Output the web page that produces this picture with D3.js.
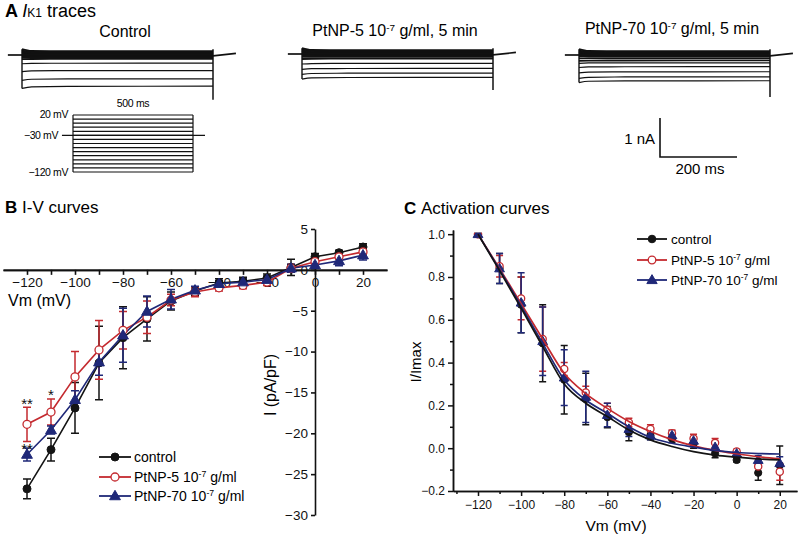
<!DOCTYPE html>
<html><head><meta charset="utf-8">
<script src="https://cdn.jsdelivr.net/npm/d3@7"></script>
<style>
body{margin:0;background:#fff}
svg{display:block;font-family:"Liberation Sans",Arial,Helvetica,sans-serif}
</style></head><body>
<svg id="c" width="806" height="540"></svg>
<script>
// ================= DATA =================
// Panel A: steady-state current levels of each trace (nA, relative to holding current)
const traceLabels = ["Control", "PtNP-5 10", "PtNP-70 10"];
const controlTrace = [0.1, 0.08, 0.06, 0.05, 0.03, 0.02, 0.01, 0, -0.03, -0.06, -0.1, -0.21, -0.4, -0.61, -0.8];
const ptnp5Trace   = [0.1, 0.08, 0.06, 0.05, 0.03, 0.02, 0.01, 0, -0.03, -0.07, -0.12, -0.24, -0.37, -0.49, -0.6];
const ptnp70Trace  = [0.1, 0.08, 0.06, 0.05, 0.03, 0.02, 0.01, 0, -0.03, -0.08, -0.14, -0.2, -0.3, -0.43, -0.56, -0.66];
const tailPeaks = [-1.15, -0.92, -1.08];           // nA, capacitive tail after the step
const protocolSteps = [20, 10, 0, -10, -20, -30, -40, -50, -60, -70, -80, -90, -100, -110, -120]; // mV
const holdingPotential = -30;                       // mV
const stepDuration = 500;                           // ms
const scaleBarCurrent = 1;                          // nA
const scaleBarTime = 200;                           // ms

// Panel B: I-V curves (pA/pF)
const voltages = [-120, -110, -100, -90, -80, -70, -60, -50, -40, -30, -20, -10, 0, 10, 20];
const seriesNames = ["control", "PtNP-5 10", "PtNP-70 10"];
const ivControl    = [-26.8, -22.0, -16.9, -11.4, -8.3, -6.0, -3.8, -2.6, -1.6, -1.4, -1.0, 0.3, 1.6, 2.1, 2.8];
const ivControlErr = [1.2, 1.4, 3.1, 4.5, 3.8, 2.7, 1.1, 0.5, 0.5, 0.5, 0.5, 1.0, 0.4, 0.3, 0.4];
const ivPt5        = [-18.9, -17.4, -13.1, -9.8, -7.4, -5.8, -3.7, -2.7, -2.2, -1.9, -1.5, 0.2, 1.0, 1.6, 2.2];
const ivPt5Err     = [2.1, 1.6, 3.1, 3.6, 2.3, 2.0, 0.7, 0.6, 0.4, 0.4, 0.4, 0.5, 0.4, 0.3, 0.3];
const ivPt70       = [-22.6, -19.6, -15.9, -11.3, -8.0, -5.1, -3.6, -2.5, -1.7, -1.5, -1.2, 0.2, 0.6, 1.1, 1.8];
const ivPt70Err    = [0.8, 0.5, 1.1, 1.6, 3.3, 1.9, 1.2, 0.5, 0.4, 0.4, 0.4, 0.5, 0.4, 0.6, 0.6];
const ivXTicks = [-120, -100, -80, -60, -40, -20, 0, 20];
const ivXMinor = [-110, -90, -70, -50, -30, -10, 10];
const ivYTicks = [-30, -25, -20, -15, -10, -5, 0, 5];

// Panel C: activation curves (I/Imax)
const actControl    = [1.0, 0.84, 0.67, 0.49, 0.32, 0.23, 0.145, 0.075, 0.06, 0.045, 0.02, -0.025, -0.055, -0.115, -0.08];
const actControlErr = [0.005, 0.07, 0.13, 0.18, 0.16, 0.12, 0.05, 0.04, 0.02, 0.02, 0.02, 0.02, 0.01, 0.035, 0.09];
const actPt5        = [1.0, 0.85, 0.70, 0.51, 0.37, 0.26, 0.18, 0.12, 0.09, 0.07, 0.045, 0.025, -0.015, -0.085, -0.11];
const actPt5Err     = [0.005, 0.05, 0.10, 0.15, 0.03, 0.03, 0.03, 0.02, 0.02, 0.015, 0.02, 0.02, 0.01, 0.03, 0.04];
const actPt70       = [1.0, 0.84, 0.68, 0.50, 0.33, 0.24, 0.155, 0.09, 0.06, 0.06, 0.035, 0.005, -0.025, -0.055, -0.07];
const actPt70Err    = [0.005, 0.07, 0.14, 0.16, 0.13, 0.12, 0.055, 0.035, 0.02, 0.02, 0.02, 0.02, 0.01, 0.02, 0.03];
// fitted curves
const fitControl = [1.0, 0.83, 0.655, 0.475, 0.30, 0.21, 0.148, 0.085, 0.039, 0.008, -0.016, -0.032, -0.042, -0.05, -0.055];
const fitPt5     = [1.0, 0.84, 0.675, 0.51, 0.35, 0.255, 0.186, 0.125, 0.078, 0.04, 0.011, -0.01, -0.026, -0.04, -0.05];
const fitPt70    = [1.0, 0.835, 0.665, 0.49, 0.32, 0.225, 0.163, 0.10, 0.05, 0.023, 0.005, -0.01, -0.02, -0.025, -0.027];
const actXTicks = [-120, -100, -80, -60, -40, -20, 0, 20];
const actXMinor = [-130, -110, -90, -70, -50, -30, -10, 10];
const actYTicks = [-0.2, 0.0, 0.2, 0.4, 0.6, 0.8, 1.0];
const actYMinor = [-0.1, 0.1, 0.3, 0.5, 0.7, 0.9];

// ================= STYLE =================
const BLACK = "#141414", RED = "#c42a2f", BLUE = "#1f2878";
const colors = [BLACK, RED, BLUE];
const svg = d3.select("#c");

function superLabel(sel, base, rest) {
  sel.append("tspan").text(base);
  sel.append("tspan").attr("dy", -5).attr("font-size", "0.62em").text("-7");
  sel.append("tspan").attr("dy", 5).text(rest);
}

// ================= PANEL A =================
const tA = svg.append("text").attr("x", 5).attr("y", 17).attr("font-size", 18);
tA.append("tspan").attr("font-weight", "bold").text("A ");
tA.append("tspan").attr("font-style", "italic").text("I");
tA.append("tspan").attr("font-size", 12).text("K1");
tA.append("tspan").text(" traces");

const traceSets = [controlTrace, ptnp5Trace, ptnp70Trace];
const traceX0 = [22, 302, 579];
const traceBase = [55, 54, 55];
const labelX = [125, 395, 672];
const labelY = [37, 36, 34];

traceSets.forEach((levels, k) => {
  const tS = d3.scaleLinear().domain([0, stepDuration]).range([traceX0[k], traceX0[k] + 191]);
  const iS = d3.scaleLinear().domain([0, -1]).range([traceBase[k], traceBase[k] + 39]);
  const g = svg.append("g").attr("fill", "none").attr("stroke", "#111").attr("stroke-width", 1.2);
  const lt = svg.append("text").attr("x", labelX[k]).attr("y", labelY[k]).attr("text-anchor", "middle").attr("font-size", 16);
  if (k === 0) lt.text(traceLabels[0]);
  else superLabel(lt, traceLabels[k], " g/ml, 5 min");
  const ln = d3.line().x(d => tS(d[0])).y(d => iS(d[1]));
  g.append("path").attr("stroke-width", 1.7).attr("d", ln([[-37, 0], [0, 0]]));
  g.append("path").attr("stroke-width", 1.7).attr("d", ln([[stepDuration, -0.02], [stepDuration + 60, 0.04]]));
  const curve = d3.line().x(d => tS(d[0])).y(d => iS(d[1])).curve(d3.curveMonotoneX);
  levels.forEach(L => {
    const start = L < 0 ? L * 1.07 : L * 1.5;
    g.append("path").attr("stroke-width", L > -0.15 ? 1.8 : 1.2)
      .attr("d", curve([[0, start], [25, L * 1.02], [120, L * 1.005], [stepDuration, L]]));
  });
  const top = d3.max(levels) * 1.5, bot = d3.min(levels) * 1.07;
  g.append("path").attr("stroke-width", 1.4).attr("d", ln([[0, top], [0, bot]]));
  g.append("path").attr("stroke-width", 1.5).attr("d", ln([[stepDuration, top], [stepDuration, tailPeaks[k]]]));
});

// voltage protocol
const pT = d3.scaleLinear().domain([0, stepDuration]).range([73, 193]);
const pV = d3.scaleLinear().domain([-120, 20]).range([172, 115]);
const gp = svg.append("g").attr("stroke", "#111").attr("stroke-width", 1.2).attr("fill", "none");
gp.selectAll("line.st").data(protocolSteps).join("line")
  .attr("x1", pT(0)).attr("x2", pT(stepDuration)).attr("y1", d => pV(d)).attr("y2", d => pV(d));
gp.append("line").attr("x1", pT(0)).attr("x2", pT(0)).attr("y1", pV(20)).attr("y2", pV(-120));
gp.append("line").attr("x1", pT(stepDuration)).attr("x2", pT(stepDuration)).attr("y1", pV(20)).attr("y2", pV(-120));
gp.append("line").attr("x1", pT(-46)).attr("x2", pT(stepDuration + 50)).attr("y1", pV(holdingPotential)).attr("y2", pV(holdingPotential)).attr("stroke-width", 1.3);
const pl = svg.append("g").attr("font-size", 10.5).attr("letter-spacing", -0.4).attr("text-anchor", "end");
pl.append("text").attr("x", 68).attr("y", pV(20) + 3).text("20 mV");
pl.append("text").attr("x", 58).attr("y", pV(holdingPotential) + 4).text("\u221230 mV");
pl.append("text").attr("x", 68).attr("y", pV(-120) + 4).text("\u2212120 mV");
svg.append("text").attr("x", (pT(0) + pT(stepDuration)) / 2).attr("y", 107).attr("text-anchor", "middle")
  .attr("font-size", 10.5).attr("letter-spacing", -0.3).text(stepDuration + " ms");

// scale bar
const sbT = d3.scaleLinear().domain([0, scaleBarTime]).range([660, 737]);
const sbI = d3.scaleLinear().domain([0, scaleBarCurrent]).range([157, 118]);
svg.append("path").attr("fill", "none").attr("stroke", "#111").attr("stroke-width", 1.6)
  .attr("d", `M${sbT(0)},${sbI(scaleBarCurrent)}V${sbI(0)}H${sbT(scaleBarTime)}`);
svg.append("text").attr("x", 655).attr("y", 144).attr("text-anchor", "end").attr("font-size", 15).text(scaleBarCurrent + " nA");
svg.append("text").attr("x", 700).attr("y", 174).attr("text-anchor", "middle").attr("font-size", 15).text(scaleBarTime + " ms");

// ================= PANEL B =================
const tB = svg.append("text").attr("x", 5).attr("y", 213).attr("font-size", 17);
tB.append("tspan").attr("font-weight", "bold").text("B ");
tB.append("tspan").text("I-V curves");

const xB = d3.scaleLinear().domain([-130, 30]).range([3, 387]);
const yB = d3.scaleLinear().domain([-30, 5]).range([515, 229]);
const gB = svg.append("g");
gB.append("g").attr("transform", `translate(0,${yB(0)})`)
  .call(d3.axisBottom(xB).tickValues(ivXTicks).tickSize(5).tickSizeOuter(0).tickPadding(3).tickFormat(d3.format("d")));
gB.append("g").attr("transform", `translate(0,${yB(0)})`)
  .call(d3.axisBottom(xB).tickValues(ivXMinor).tickSize(5).tickSizeOuter(0).tickFormat(""));
gB.append("g").attr("transform", `translate(${xB(0)},0)`)
  .call(d3.axisLeft(yB).tickValues(ivYTicks).tickSize(4).tickSizeOuter(0).tickPadding(3).tickFormat(d3.format("d")));
gB.selectAll(".domain, .tick line").attr("stroke", "#111").attr("stroke-width", 1.6);
gB.selectAll(".tick text").attr("font-size", 13.5).attr("fill", "#111").attr("font-family", "Liberation Sans, Arial, sans-serif");
svg.append("text").attr("x", 8).attr("y", 306).attr("font-size", 16).text("Vm (mV)");
svg.append("text").attr("transform", "translate(276,385) rotate(-90)").attr("text-anchor", "middle").attr("font-size", 16).text("I (pA/pF)");

const ivSets = [[ivControl, ivControlErr], [ivPt5, ivPt5Err], [ivPt70, ivPt70Err]];
function marker(g, type, cx, cy, col, r) {
  if (type === 0) g.append("circle").attr("cx", cx).attr("cy", cy).attr("r", r).attr("fill", col).attr("stroke", col);
  else if (type === 1) g.append("circle").attr("cx", cx).attr("cy", cy).attr("r", r).attr("fill", "#fff").attr("stroke", col).attr("stroke-width", 1.3);
  else g.append("path").attr("d", d3.symbol(d3.symbolTriangle, r * r * 3.2)()).attr("transform", `translate(${cx},${cy + 0.6})`).attr("fill", col).attr("stroke", col);
}
const plotB = svg.append("g");
ivSets.forEach(([vals, errs], s) => {
  const col = colors[s];
  const pts = voltages.map((v, i) => [xB(v), yB(vals[i])]);
  plotB.append("path").attr("d", d3.line()(pts)).attr("fill", "none").attr("stroke", col).attr("stroke-width", 1.6);
  voltages.forEach((v, i) => {
    const x = xB(v), y1 = yB(vals[i] + errs[i]), y2 = yB(vals[i] - errs[i]);
    plotB.append("path").attr("d", `M${x},${y1}V${y2}M${x - 4},${y1}H${x + 4}M${x - 4},${y2}H${x + 4}`)
      .attr("stroke", col).attr("stroke-width", 1.5).attr("fill", "none");
  });
});
ivSets.forEach(([vals], s) => {
  voltages.forEach((v, i) => marker(plotB, s, xB(v), yB(vals[i]), colors[s], 4));
});
// significance marks
const star = svg.append("g").attr("font-size", 15).attr("text-anchor", "middle").attr("fill", "#111");
star.append("text").attr("x", xB(-120)).attr("y", yB(ivPt5[0] + ivPt5Err[0]) + 2).text("**");
star.append("text").attr("x", xB(-110)).attr("y", yB(ivPt5[1] + ivPt5Err[1]) + 1).text("*");
star.append("text").attr("x", xB(-120)).attr("y", yB(ivPt70[0] + ivPt70Err[0]) + 6).text("**");

// legend B
const legB = svg.append("g");
[457, 477, 496].forEach((ly, s) => {
  legB.append("line").attr("x1", 99).attr("x2", 131).attr("y1", ly).attr("y2", ly).attr("stroke", colors[s]).attr("stroke-width", 1.8);
  marker(legB, s, 115, ly, colors[s], 4);
  const t = legB.append("text").attr("x", 134).attr("y", ly + 5).attr("font-size", 14);
  if (s === 0) t.text(seriesNames[0]); else superLabel(t, seriesNames[s], " g/ml");
});

// ================= PANEL C =================
const tC = svg.append("text").attr("x", 404).attr("y", 214).attr("font-size", 17);
tC.append("tspan").attr("font-weight", "bold").text("C ");
tC.append("tspan").text("Activation curves");

const xC = d3.scaleLinear().domain([-131.6, 28]).range([453, 797]);
const yC = d3.scaleLinear().domain([-0.2, 1.02]).range([491, 229.9]);
const gC = svg.append("g");
gC.append("g").attr("transform", "translate(0,491)")
  .call(d3.axisBottom(xC).tickValues(actXTicks).tickSize(5).tickSizeOuter(0).tickPadding(4).tickFormat(d3.format("d")));
gC.append("g").attr("transform", "translate(0,491)")
  .call(d3.axisBottom(xC).tickValues(actXMinor).tickSize(3).tickSizeOuter(0).tickFormat(""));
gC.append("g").attr("transform", "translate(453,0)")
  .call(d3.axisLeft(yC).tickValues(actYTicks).tickSize(5).tickSizeOuter(0).tickPadding(3).tickFormat(d3.format(".1f")));
gC.append("g").attr("transform", "translate(453,0)")
  .call(d3.axisLeft(yC).tickValues(actYMinor).tickSize(3).tickSizeOuter(0).tickFormat(""));
gC.selectAll(".domain, .tick line").attr("stroke", "#111").attr("stroke-width", 1.5);
gC.selectAll(".tick text").attr("font-size", 12).attr("fill", "#111").attr("font-family", "Liberation Sans, Arial, sans-serif");
svg.append("text").attr("x", 616).attr("y", 531).attr("text-anchor", "middle").attr("font-size", 15.5).text("Vm (mV)");
svg.append("text").attr("transform", "translate(421,362) rotate(-90)").attr("text-anchor", "middle").attr("font-size", 15).text("I/Imax");

svg.append("clipPath").attr("id", "clipC").append("rect").attr("x", 453).attr("y", yC(1.0) - 1.5).attr("width", 350).attr("height", 300);
const plotC = svg.append("g").attr("clip-path", "url(#clipC)");
const actSets = [[actControl, actControlErr, fitControl], [actPt5, actPt5Err, fitPt5], [actPt70, actPt70Err, fitPt70]];
actSets.forEach(([vals, errs], s) => {
  const col = colors[s];
  voltages.forEach((v, i) => {
    const x = xC(v), y1 = yC(vals[i] + errs[i]), y2 = yC(vals[i] - errs[i]);
    plotC.append("path").attr("d", `M${x},${y1}V${y2}M${x - 3.5},${y1}H${x + 3.5}M${x - 3.5},${y2}H${x + 3.5}`)
      .attr("stroke", col).attr("stroke-width", 1.5).attr("fill", "none");
  });
});
actSets.forEach(([vals], s) => {
  voltages.forEach((v, i) => marker(plotC, s, xC(v), yC(vals[i]), colors[s], 3.6));
});
const fitLine = d3.line().x((d, i) => xC(voltages[i])).y(d => yC(d)).curve(d3.curveMonotoneX);
[1, 2, 0].forEach(s => {
  plotC.append("path").attr("d", fitLine(actSets[s][2])).attr("fill", "none").attr("stroke", colors[s]).attr("stroke-width", 1.7);
});

// legend C
const legC = svg.append("g");
[239, 260, 280].forEach((ly, s) => {
  legC.append("line").attr("x1", 637).attr("x2", 667).attr("y1", ly).attr("y2", ly).attr("stroke", colors[s]).attr("stroke-width", 1.8);
  marker(legC, s, 652, ly, colors[s], 3.8);
  const t = legC.append("text").attr("x", 671).attr("y", ly + 5).attr("font-size", 13.5);
  if (s === 0) t.text(seriesNames[0]); else superLabel(t, seriesNames[s], " g/ml");
});
</script>
</body></html>
